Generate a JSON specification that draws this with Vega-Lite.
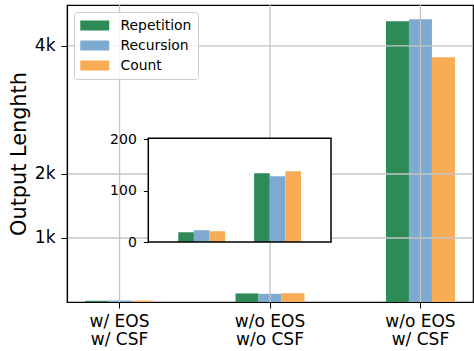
{
  "$schema": "https://vega.github.io/schema/vega-lite/v6.json",
  "width": 406,
  "height": 297,
  "autosize": {"type": "none"},
  "padding": {"left": 67, "top": 5, "right": 1, "bottom": 49},
  "config": {
    "font": "DejaVu Sans",
    "view": {"stroke": "black", "strokeWidth": 1.2},
    "axis": {"labelFont": "DejaVu Sans", "titleFont": "DejaVu Sans", "labelColor": "black", "titleColor": "black", "tickColor": "black", "domainColor": "black"},
    "legend": {"labelFont": "DejaVu Sans"}
  },
  "datasets": {
    "bars": [
      {"group": "w/ EOS, w/ CSF", "method": "Repetition", "value": 19},
      {"group": "w/ EOS, w/ CSF", "method": "Recursion", "value": 23},
      {"group": "w/ EOS, w/ CSF", "method": "Count", "value": 21},
      {"group": "w/o EOS, w/o CSF", "method": "Repetition", "value": 134},
      {"group": "w/o EOS, w/o CSF", "method": "Recursion", "value": 128},
      {"group": "w/o EOS, w/o CSF", "method": "Count", "value": 138},
      {"group": "w/o EOS, w/ CSF", "method": "Repetition", "value": 4386},
      {"group": "w/o EOS, w/ CSF", "method": "Recursion", "value": 4417},
      {"group": "w/o EOS, w/ CSF", "method": "Count", "value": 3823}
    ],
    "yticks": [{"v": 1000}, {"v": 2000}, {"v": 4000}],
    "groups": [{"group": "w/ EOS, w/ CSF"}, {"group": "w/o EOS, w/o CSF"}, {"group": "w/o EOS, w/ CSF"}]
  },
  "resolve": {
    "scale": {"x": "independent", "y": "independent", "xOffset": "independent"},
    "axis": {"x": "independent", "y": "independent"}
  },
  "layer": [
    {
      "data": {"name": "bars"},
      "layer": [
        {
          "mark": {"type": "bar"},
          "encoding": {
            "x": {
              "field": "group", "type": "nominal", "sort": null,
              "scale": {"paddingInner": 0.5415, "paddingOuter": 0.12},
              "axis": {"title": null, "labelAngle": 0, "labelExpr": "split(datum.label, ', ')", "labelFontSize": 17, "labelLineHeight": 18.5, "tickSize": 6, "labelPadding": 5, "domain": true, "domainWidth": 1.2, "grid": false, "zindex": 1}
            },
            "xOffset": {"field": "method", "type": "nominal", "sort": ["Repetition", "Recursion", "Count"], "scale": {"paddingInner": 0, "paddingOuter": 0}},
            "y": {
              "field": "value", "type": "quantitative",
              "scale": {"domain": [0, 4640], "nice": false},
              "axis": {"title": "Output Lenghth", "titleFontSize": 20.8, "titleFontWeight": "normal", "titlePadding": 5, "values": [1000, 2000, 4000], "labelExpr": "datum.value / 1000 + 'k'", "labelFontSize": 17, "tickSize": 6, "labelPadding": 6, "domain": true, "domainWidth": 1.2, "grid": false, "zindex": 1}
            },
            "color": {
              "field": "method", "type": "nominal",
              "scale": {"domain": ["Repetition", "Recursion", "Count"], "range": ["#2E8B57", "#7EAAD2", "#F8AC55"]},
              "legend": {"title": null, "orient": "top-left", "offset": 7, "padding": 6, "fillColor": "rgba(255,255,255,0.8)", "strokeColor": "#cccccc", "cornerRadius": 3, "symbolType": "M-1,-0.69H3V0.69H-1Z", "symbolSize": 210, "symbolStrokeWidth": 0, "labelFontSize": 13.9, "labelOffset": 25.5, "rowPadding": 5, "zindex": 1}
            }
          }
        },
        {
          "data": {"name": "yticks"},
          "mark": {"type": "rule", "color": "#c4c4c4", "strokeWidth": 1.3},
          "encoding": {"y": {"field": "v", "type": "quantitative"}}
        },
        {
          "data": {"name": "groups"},
          "mark": {"type": "rule", "color": "#c4c4c4", "strokeWidth": 1.3},
          "encoding": {"x": {"field": "group", "type": "nominal", "sort": null}}
        }
      ]
    },
    {
      "data": {"values": [{}]},
      "mark": {"type": "rect", "fill": "white", "strokeWidth": 0},
      "encoding": {
        "x": {"datum": 0, "type": "quantitative", "scale": {"domain": [0, 1], "range": [81.3, 264]}, "axis": null},
        "x2": {"datum": 1},
        "y": {"datum": 0, "type": "quantitative", "scale": {"domain": [0, 1], "range": [237, 133.3]}, "axis": null},
        "y2": {"datum": 1}
      }
    },
    {
      "data": {"name": "bars"},
      "transform": [{"filter": "datum.group !== 'w/o EOS, w/ CSF'"}],
      "mark": {"type": "bar"},
      "encoding": {
        "x": {"field": "group", "type": "nominal", "sort": null, "scale": {"range": [81.3, 264], "paddingInner": 0.382, "paddingOuter": 0.395}, "axis": null},
        "xOffset": {"field": "method", "type": "nominal", "sort": ["Repetition", "Recursion", "Count"], "scale": {"paddingInner": 0, "paddingOuter": 0}},
        "y": {
          "field": "value", "type": "quantitative",
          "scale": {"domain": [0, 202], "range": [237, 133.3], "nice": false},
          "axis": {"orient": "left", "offset": -81.3, "values": [0, 100, 200], "title": null, "labelFontSize": 14, "tickSize": 5, "labelPadding": 7, "grid": false, "domain": false, "zindex": 1}
        },
        "color": {"field": "method", "type": "nominal", "scale": {"domain": ["Repetition", "Recursion", "Count"], "range": ["#2E8B57", "#7EAAD2", "#F8AC55"]}}
      }
    },
    {
      "data": {"values": [{}]},
      "mark": {"type": "rect", "filled": false, "stroke": "black", "strokeWidth": 1.5},
      "encoding": {
        "x": {"datum": 0, "type": "quantitative", "scale": {"domain": [0, 1], "range": [81.3, 264]}, "axis": null},
        "x2": {"datum": 1},
        "y": {"datum": 0, "type": "quantitative", "scale": {"domain": [0, 1], "range": [237, 133.3]}, "axis": null},
        "y2": {"datum": 1}
      }
    }
  ]
}
